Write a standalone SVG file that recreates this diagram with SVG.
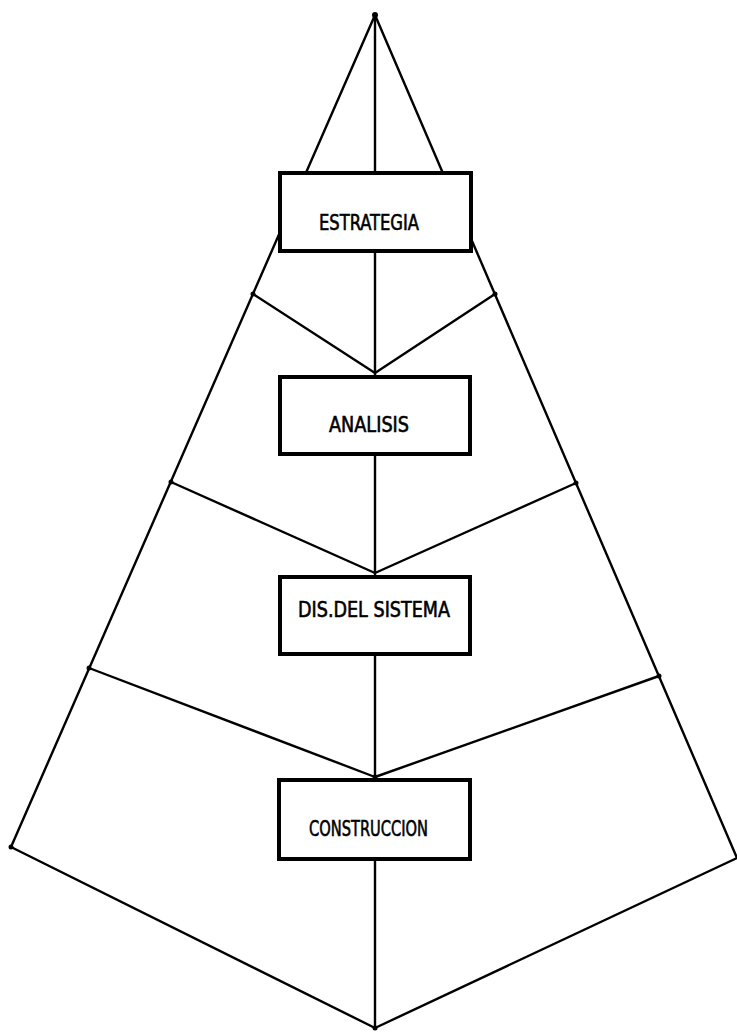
<svg xmlns="http://www.w3.org/2000/svg" width="737" height="1032" viewBox="0 0 737 1032">
  <style>
    .edge { fill: none; stroke: #000; stroke-width: 2.4; stroke-linecap: round; stroke-linejoin: round; }
    .box { fill: #fff; stroke: #000; stroke-width: 4; }
    .joint { fill: #000; }
    .label { font-family: "DejaVu Sans Condensed", "DejaVu Sans", sans-serif; font-size: 22px; fill: #000; stroke: #000; stroke-width: 0.6; }
  </style>
  <rect width="737" height="1032" fill="#fff"/>

  <!-- connectors: outer frame, spine and the fan-in lines to each stage -->
  <g id="connectors">
    <polyline class="edge" points="375,15 11,847 375,1028 737,858 375,15"/>
    <line class="edge" x1="375" y1="15" x2="375" y2="1028"/>
    <polyline class="edge" points="253,294 375,373 495,294"/>
    <polyline class="edge" points="171,482 375,573 576,483"/>
    <polyline class="edge" points="89,668 375,777 659,676"/>
    <circle class="joint" cx="375" cy="15" r="3"/>
    <circle class="joint" cx="253" cy="294" r="2.5"/>
    <circle class="joint" cx="495" cy="294" r="2.5"/>
    <circle class="joint" cx="171" cy="482" r="2.5"/>
    <circle class="joint" cx="576" cy="483" r="2.5"/>
    <circle class="joint" cx="89" cy="668" r="2.5"/>
    <circle class="joint" cx="659" cy="676" r="2.5"/>
    <circle class="joint" cx="11" cy="847" r="2.5"/>
    <circle class="joint" cx="375" cy="777" r="2.5"/>
    <circle class="joint" cx="375" cy="1028" r="2.5"/>
  </g>

  <g id="estrategia">
    <rect class="box" x="280" y="173" width="191" height="78"/>
    <text class="label" x="319" y="230" textLength="100" lengthAdjust="spacingAndGlyphs">ESTRATEGIA</text>
  </g>

  <g id="analisis">
    <rect class="box" x="280" y="377" width="190" height="77"/>
    <text class="label" x="329" y="432" textLength="80" lengthAdjust="spacingAndGlyphs">ANALISIS</text>
  </g>

  <g id="diseno">
    <rect class="box" x="280" y="577" width="190" height="77"/>
    <text class="label" x="298" y="617" textLength="152" lengthAdjust="spacingAndGlyphs">DIS.DEL SISTEMA</text>
  </g>

  <g id="construccion">
    <rect class="box" x="279" y="780" width="191" height="79"/>
    <text class="label" x="309" y="836" textLength="119" lengthAdjust="spacingAndGlyphs">CONSTRUCCION</text>
  </g>
</svg>
